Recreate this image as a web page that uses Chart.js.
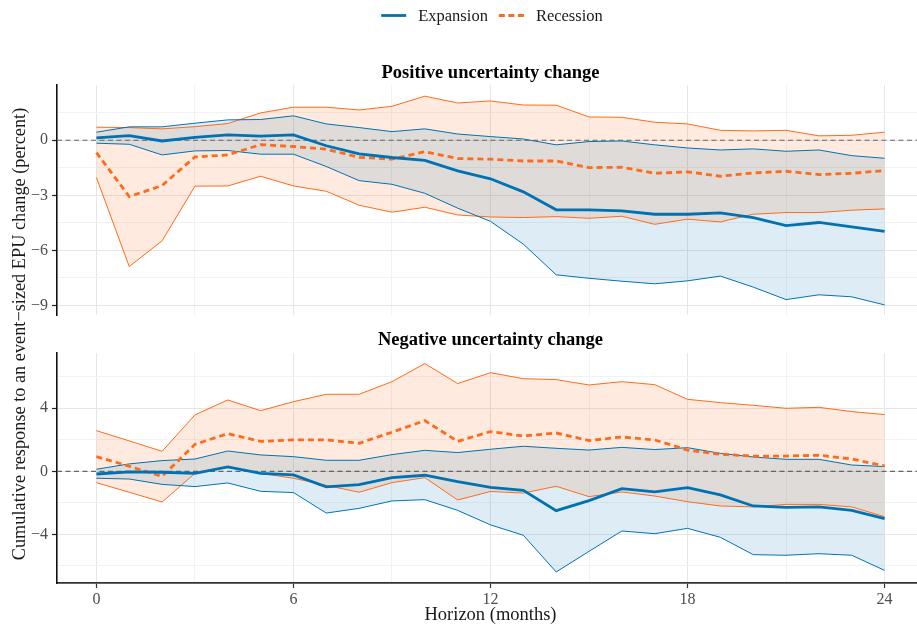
<!DOCTYPE html>
<html>
<head>
<meta charset="utf-8">
<script src="https://cdn.jsdelivr.net/npm/chart.js@4.4.1/dist/chart.umd.min.js"></script>
<style>
html,body{margin:0;padding:0;background:#fff;overflow:hidden;}
#wrap{position:relative;width:917px;height:628px;overflow:hidden;}
#wrap canvas{position:absolute;left:0;}
</style>
</head>
<body>
<div id="wrap">
  <canvas id="cTop" width="924" height="628" style="top:0"></canvas>
  <canvas id="cBot" width="924" height="308" style="top:320px"></canvas>
</div>
<script>
// ---------- DATA ----------
const horizon = [0,1,2,3,4,5,6,7,8,9,10,11,12,13,14,15,16,17,18,19,20,21,22,23,24];

// Positive uncertainty change
const posExpMean  = [0.13,0.25,-0.04,0.16,0.29,0.22,0.29,-0.30,-0.74,-0.94,-1.10,-1.67,-2.10,-2.81,-3.79,-3.79,-3.85,-4.03,-4.03,-3.96,-4.21,-4.65,-4.48,-4.72,-4.97];
const posExpUpper = [0.44,0.73,0.73,0.93,1.11,1.13,1.33,0.89,0.69,0.47,0.62,0.34,0.20,0.07,-0.25,-0.07,-0.04,-0.25,-0.42,-0.53,-0.47,-0.60,-0.53,-0.84,-0.98];
const posExpLower = [-0.16,-0.22,-0.80,-0.58,-0.56,-0.76,-0.76,-1.43,-2.20,-2.40,-2.89,-3.70,-4.42,-5.66,-7.33,-7.52,-7.68,-7.82,-7.66,-7.40,-8.00,-8.68,-8.42,-8.53,-8.97];
const posRecMean  = [-0.67,-3.07,-2.47,-0.91,-0.80,-0.24,-0.34,-0.49,-0.93,-1.03,-0.62,-1.00,-1.03,-1.13,-1.13,-1.49,-1.47,-1.80,-1.72,-1.96,-1.78,-1.69,-1.87,-1.80,-1.65];
const posRecUpper = [0.71,0.69,0.62,0.74,0.91,1.49,1.80,1.80,1.65,1.85,2.40,2.03,2.14,1.92,1.91,1.27,1.25,0.98,0.89,0.54,0.51,0.54,0.24,0.27,0.44];
const posRecLower = [-2.03,-6.88,-5.48,-2.50,-2.49,-1.96,-2.49,-2.78,-3.54,-3.92,-3.65,-4.07,-4.18,-4.21,-4.16,-4.25,-4.14,-4.58,-4.30,-4.45,-4.03,-3.94,-3.94,-3.81,-3.74];

// Negative uncertainty change
const negExpMean  = [-0.17,-0.04,-0.06,-0.13,0.28,-0.13,-0.23,-0.99,-0.85,-0.40,-0.25,-0.66,-1.02,-1.21,-2.50,-1.86,-1.10,-1.31,-1.04,-1.50,-2.20,-2.29,-2.26,-2.48,-3.00];
const negExpUpper = [0.13,0.47,0.68,0.78,1.29,1.04,0.93,0.70,0.70,1.06,1.33,1.19,1.40,1.59,1.46,1.35,1.52,1.38,1.50,1.14,0.91,0.76,0.76,0.40,0.30];
const negExpLower = [-0.44,-0.49,-0.83,-0.97,-0.74,-1.27,-1.35,-2.65,-2.35,-1.88,-1.80,-2.48,-3.40,-4.06,-6.39,-5.08,-3.79,-3.96,-3.62,-4.19,-5.29,-5.33,-5.23,-5.33,-6.29];
const negRecMean  = [0.93,0.32,-0.32,1.71,2.39,1.90,1.99,1.99,1.78,2.48,3.22,1.90,2.52,2.24,2.43,1.95,2.18,1.99,1.35,1.08,0.97,0.97,1.02,0.78,0.34];
const negRecUpper = [2.58,1.93,1.27,3.58,4.53,3.85,4.42,4.89,4.89,5.69,6.84,5.57,6.26,5.88,5.82,5.48,5.69,5.50,4.57,4.36,4.19,4.00,4.06,3.79,3.60];
const negRecLower = [-0.72,-1.33,-1.95,-0.13,0.25,-0.13,-0.44,-0.89,-1.33,-0.72,-0.40,-1.82,-1.28,-1.38,-0.95,-1.61,-1.31,-1.57,-1.93,-2.20,-2.26,-2.10,-2.10,-2.26,-2.88];

// Ticks
const xMajorTicks = [0,6,12,18,24];
const xMinorTicks = [3,9,15,21];
const posYMajorTicks = [-9,-6,-3,0];
const posYMinorTicks = [-7.5,-4.5,-1.5,1.5];
const negYMajorTicks = [-4,0,4];
const negYMinorTicks = [-6,-2,2,6];

// Labels
const seriesNames = ['Expansion','Recession'];
const panelTitles = ['Positive uncertainty change','Negative uncertainty change'];
const xAxisTitle = 'Horizon (months)';
const yAxisTitle = 'Cumulative response to an event\u2212sized EPU change (percent)';

// ---------- STYLE ----------
const SERIF = "'Liberation Serif','Times New Roman',serif";
const BLUE = '#0072B2';
const ORANGE = '#FF6B1A';
const BLUE_FILL = 'rgba(0,114,178,0.13)';
const ORANGE_FILL = 'rgba(255,107,26,0.14)';
const GRID_MAJOR = '#E6E6E6';
const GRID_MINOR = '#F2F2F2';
const X_MIN = -1.2, X_MAX = 25.2;

function pts(arr){ return horizon.map((h,i)=>({x:h,y:arr[i]})); }
function fmt(v){ return v < 0 ? '\u2212' + Math.abs(v) : String(v); }

const textPlugin = {
  id: 'panelText',
  afterDraw(chart, args, o){
    const ctx = chart.ctx;
    const ca = chart.chartArea;
    const cx = (ca.left + ca.right) / 2;
    ctx.save();
    // panel title
    ctx.fillStyle = '#000';
    ctx.font = 'bold 18.5px ' + SERIF;
    ctx.textAlign = 'center';
    ctx.textBaseline = 'alphabetic';
    ctx.fillText(o.title, cx, o.titleBaseline);
    // legend
    if (o.legend){
      ctx.font = '16.5px ' + SERIF;
      const lineW = 25, gap1 = 12, gap2 = 11;
      const w0 = ctx.measureText(seriesNames[0]).width;
      const w1 = ctx.measureText(seriesNames[1]).width;
      const total = lineW + gap1 + w0 + gap2 + lineW + gap1 + w1;
      let x = cx + 1.5 - total/2;
      const ly = 15.5;
      ctx.lineWidth = 2.8;
      ctx.strokeStyle = BLUE; ctx.setLineDash([]);
      ctx.beginPath(); ctx.moveTo(x, ly); ctx.lineTo(x+lineW, ly); ctx.stroke();
      x += lineW + gap1;
      ctx.fillStyle = '#1a1a1a'; ctx.textAlign = 'left';
      ctx.fillText(seriesNames[0], x, 20.7);
      x += w0 + gap2;
      ctx.strokeStyle = ORANGE; ctx.setLineDash([6,3.5]);
      ctx.beginPath(); ctx.moveTo(x, ly); ctx.lineTo(x+lineW, ly); ctx.stroke();
      ctx.setLineDash([]);
      x += lineW + gap1;
      ctx.fillText(seriesNames[1], x, 20.7);
    }
    // y axis title
    if (o.yTitle){
      ctx.font = '18.3px ' + SERIF;
      ctx.fillStyle = '#1a1a1a';
      ctx.translate(24.5, 334);
      ctx.rotate(-Math.PI/2);
      ctx.textAlign = 'center';
      ctx.textBaseline = 'alphabetic';
      ctx.fillText(yAxisTitle, 0, 0);
    }
    ctx.restore();
  }
};

function buildChart(id, s, opt){
  const yMajorSet = new Set(opt.yMajor);
  const allY = opt.yMajor.concat(opt.yMinor).sort((a,b)=>a-b);
  const xMajorSet = new Set(xMajorTicks);
  const allX = xMajorTicks.concat(xMinorTicks).sort((a,b)=>a-b);
  const line = (label, data, color, width, extra) => Object.assign({
    label, data, borderColor: color, borderWidth: width, pointRadius: 0, pointHoverRadius: 0, fill: false, tension: 0
  }, extra || {});
  return new Chart(document.getElementById(id), {
    type: 'line',
    data: { datasets: [
      line(seriesNames[0], pts(s.expMean), BLUE, 2.8),
      line(seriesNames[1], pts(s.recMean), ORANGE, 2.8, {borderDash:[6,4]}),
      line('zero', [{x:X_MIN,y:0},{x:X_MAX,y:0}], '#666666', 1.2, {borderDash:[5,3.5]}),
      line(seriesNames[0]+' upper', pts(s.expUpper), BLUE, 1),
      line(seriesNames[0]+' lower', pts(s.expLower), BLUE, 1, {fill:{target:3}, backgroundColor: BLUE_FILL}),
      line(seriesNames[1]+' upper', pts(s.recUpper), ORANGE, 1),
      line(seriesNames[1]+' lower', pts(s.recLower), ORANGE, 1, {fill:{target:5}, backgroundColor: ORANGE_FILL})
    ]},
    plugins: [textPlugin],
    options: {
      responsive: false, animation: false, devicePixelRatio: 1,
      layout: { padding: { left: 0, right: 0, top: opt.padTop, bottom: opt.padBottom } },
      plugins: {
        legend: { display: false },
        tooltip: { enabled: false },
        filler: { drawTime: 'beforeDatasetsDraw' },
        panelText: { title: opt.title, titleBaseline: opt.titleBaseline, legend: opt.legend, yTitle: opt.yTitle }
      },
      scales: {
        x: {
          type: 'linear', min: X_MIN, max: X_MAX,
          afterBuildTicks: sc => { sc.ticks = allX.map(v=>({value:v})); },
          afterFit: sc => { sc.height = opt.showX ? opt.xAxisHeight : 0; },
          grid: {
            color: c => (c.tick && xMajorSet.has(c.tick.value)) ? GRID_MAJOR : GRID_MINOR,
            lineWidth: 1,
            drawTicks: opt.showX, tickLength: 5,
            tickColor: c => (c.tick && xMajorSet.has(c.tick.value)) ? '#333' : 'rgba(0,0,0,0)',
            tickWidth: 1.2
          },
          border: { display: opt.showX, color: '#333', width: 1.8 },
          ticks: {
            display: opt.showX, autoSkip: false, maxRotation: 0, padding: 2,
            color: '#4d4d4d', font: { size: 16, family: SERIF },
            callback: v => xMajorSet.has(v) ? String(v) : ''
          },
          title: { display: opt.showX, text: xAxisTitle, color: '#1a1a1a', font: { size: 18.5, family: SERIF }, padding: { top: 0, bottom: 2 } }
        },
        y: {
          type: 'linear', min: opt.yMin, max: opt.yMax,
          afterBuildTicks: sc => { sc.ticks = allY.map(v=>({value:v})); },
          afterFit: sc => { sc.width = 57; },
          grid: {
            color: c => (c.tick && yMajorSet.has(c.tick.value)) ? GRID_MAJOR : GRID_MINOR,
            lineWidth: 1,
            drawTicks: true, tickLength: 5,
            tickColor: c => (c.tick && yMajorSet.has(c.tick.value)) ? '#222' : 'rgba(0,0,0,0)',
            tickWidth: 1.2
          },
          border: { display: true, color: '#111', width: 1.6 },
          ticks: {
            autoSkip: false, padding: 4,
            color: '#4d4d4d', font: { size: 16, family: SERIF },
            callback: v => yMajorSet.has(v) ? fmt(v) : ''
          }
        }
      }
    }
  });
}

Chart.defaults.font.family = SERIF;

buildChart('cTop', {
  expMean: posExpMean, expUpper: posExpUpper, expLower: posExpLower,
  recMean: posRecMean, recUpper: posRecUpper, recLower: posRecLower
}, {
  yMin: -9.52, yMax: 3.01, yMajor: posYMajorTicks, yMinor: posYMinorTicks,
  padTop: 85, padBottom: 313, showX: false, xAxisHeight: 0,
  title: panelTitles[0], titleBaseline: 77.5, legend: true, yTitle: true
});

buildChart('cBot', {
  expMean: negExpMean, expUpper: negExpUpper, expLower: negExpLower,
  recMean: negRecMean, recUpper: negRecUpper, recLower: negRecLower
}, {
  yMin: -7.09, yMax: 7.51, yMajor: negYMajorTicks, yMinor: negYMinorTicks,
  padTop: 33, padBottom: 0, showX: true, xAxisHeight: 45,
  title: panelTitles[1], titleBaseline: 24.5, legend: false, yTitle: false
});
</script>
</body>
</html>
